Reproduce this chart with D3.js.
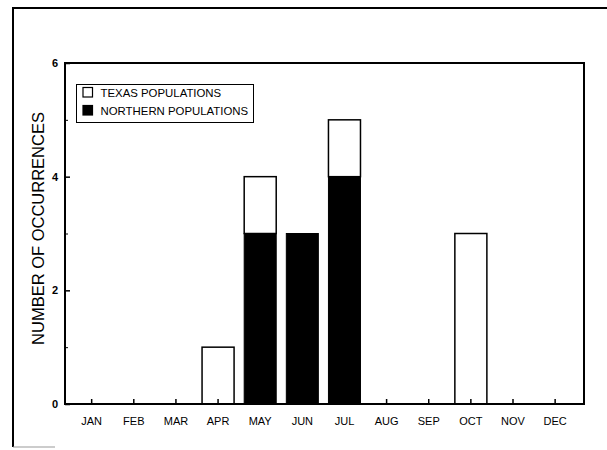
<!DOCTYPE html>
<html><head><meta charset="utf-8">
<script src="https://cdn.jsdelivr.net/npm/d3@7"></script>
<style>html,body{margin:0;padding:0;background:#fff;} svg{display:block;}</style>
</head><body>
<svg id="chart" width="607" height="450"></svg>
<script>
const months = ["JAN","FEB","MAR","APR","MAY","JUN","JUL","AUG","SEP","OCT","NOV","DEC"];
const northern = [0,0,0,0,3,3,4,0,0,0,0,0];
const texas    = [0,0,0,1,1,0,1,0,0,3,0,0];
const yTicks = [0,2,4,6];
const yMinorTicks = [1,3,5];
const seriesNames = ["TEXAS POPULATIONS","NORTHERN POPULATIONS"];
const yTitle = "NUMBER OF OCCURRENCES";

const svg = d3.select("#chart");
const font = "'Liberation Sans', Arial, Helvetica, sans-serif";
const L = 65, R = 584, T = 63, B = 404;

// outer frame
svg.append("path").attr("d", `M13,447 L13,8 L607,8`).attr("fill","none").attr("stroke","#000").attr("stroke-width",2);
svg.append("line").attr("x1",13).attr("x2",55).attr("y1",447).attr("y2",447).attr("stroke","#999").attr("stroke-width",1);

const x = d3.scaleBand().domain(months).range([70.6, 576.2]).paddingInner(0.24).paddingOuter(0.12);
const y = d3.scaleLinear().domain([0,6]).range([B, T]);

const data = months.map((m,i)=>({m, n: northern[i], t: texas[i]}));
const g = svg.append("g");
// northern (black)
g.selectAll("rect.n").data(data.filter(d=>d.n>0)).join("rect")
  .attr("x", d=>x(d.m)).attr("width", x.bandwidth())
  .attr("y", d=>y(d.n)).attr("height", d=>y(0)-y(d.n))
  .attr("fill","#000").attr("stroke","#000").attr("stroke-width",1);
// texas (white, stacked)
g.selectAll("rect.t").data(data.filter(d=>d.t>0)).join("rect")
  .attr("x", d=>x(d.m)).attr("width", x.bandwidth())
  .attr("y", d=>y(d.n+d.t)).attr("height", d=>y(d.n)-y(d.n+d.t))
  .attr("fill","#fff").attr("stroke","#000").attr("stroke-width",1.5);

// x axis ticks (inward) and labels
const xAxis = d3.axisBottom(x).tickSizeInner(-5).tickSizeOuter(0).tickPadding(13);
const xg = svg.append("g").attr("transform",`translate(0,${B})`).call(xAxis);
xg.select(".domain").remove();
xg.selectAll(".tick line").attr("stroke","#000").attr("stroke-width",1.5);
xg.selectAll(".tick text").attr("font-family",font).attr("font-size","11px").attr("fill","#000");

// y axis
const yAxis = d3.axisLeft(y).tickValues(yTicks).tickSizeInner(-5).tickSizeOuter(0).tickPadding(7).tickFormat(d3.format("d"));
const yg = svg.append("g").attr("transform",`translate(${L},0)`).call(yAxis);
yg.select(".domain").remove();
yg.selectAll(".tick line").attr("stroke","#000").attr("stroke-width",1.5);
yg.selectAll(".tick text").attr("font-family",font).attr("font-size","11px").attr("font-weight","bold").attr("fill","#000");
const ym = d3.axisLeft(y).tickValues(yMinorTicks).tickSizeInner(-3).tickSizeOuter(0).tickFormat("");
const ymg = svg.append("g").attr("transform",`translate(${L},0)`).call(ym);
ymg.select(".domain").remove();
ymg.selectAll(".tick line").attr("stroke","#000").attr("stroke-width",1);

// plot frame
svg.append("rect").attr("x",L).attr("y",T).attr("width",R-L).attr("height",B-T)
  .attr("fill","none").attr("stroke","#000").attr("stroke-width",2);

// y title
svg.append("text").attr("transform",`translate(44,${(T+B)/2 - 5}) rotate(-90)`)
  .attr("text-anchor","middle").attr("font-family",font).attr("font-size","16.5px").attr("fill","#000").text(yTitle);

// legend
const lg = svg.append("g");
lg.append("rect").attr("x",76.5).attr("y",84.5).attr("width",177).attr("height",38)
  .attr("fill","#fff").attr("stroke","#000").attr("stroke-width",1);
seriesNames.forEach((s,i)=>{
  const yy = 87.5 + i*18;
  lg.append("rect").attr("x",83).attr("y",yy).attr("width",9.5).attr("height",9.5)
    .attr("fill", i===0?"#fff":"#000").attr("stroke","#000").attr("stroke-width",1.2);
  lg.append("text").attr("x",100.5).attr("y",yy+9.5).attr("font-family",font).attr("font-size","11.4px").attr("fill","#000").text(s);
});
</script>
</body></html>
